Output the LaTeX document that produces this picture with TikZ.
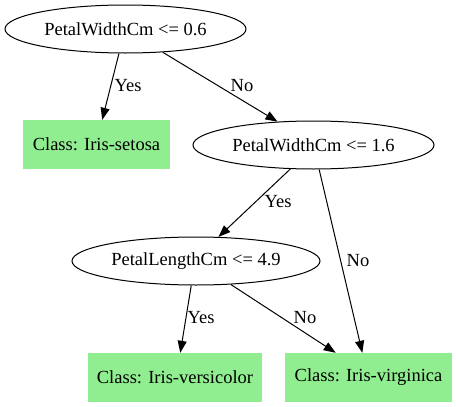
\documentclass[tikz,border=0pt]{standalone}
\usepackage{fontspec}
\setmainfont{Liberation Serif}
\usetikzlibrary{shapes.geometric,arrows.meta}
\definecolor{leafgreen}{RGB}{144,238,144}
\tikzset{
  test/.style={ellipse,draw=black,line width=1pt,inner sep=0pt,minimum height=48pt},
  leaf/.style={rectangle,fill=leafgreen,draw=none,inner sep=0pt,minimum height=49pt},
  edge/.style={draw=black,line width=1pt,-{Triangle[length=12pt,width=9pt]}},
  lbl/.style={inner sep=0pt}
}
\begin{document}
\begin{tikzpicture}[x=1pt,y=-1pt,font=\fontsize{18.5}{20}\selectfont]
\useasboundingbox (0,0) rectangle (456,407);
\node[test,minimum width=241pt] (root) at (125.5,29) {PetalWidthCm <= 0.6};
\node[leaf,minimum width=147pt] (setosa) at (96.5,144.5) {Class: Iris-setosa};
\node[test,minimum width=241pt] (pw) at (313.5,145) {PetalWidthCm <= 1.6};
\node[test,minimum width=248pt] (pl) at (196,261) {PetalLengthCm <= 4.9};
\node[leaf,minimum width=174pt] (versi) at (175,377.5) {Class: Iris-versicolor};
\node[leaf,minimum width=167pt] (virg) at (368.5,377.5) {Class: Iris-virginica};

\draw[edge] (root.-105) -- (setosa.77.3);
\draw[edge] (root.-32.2) -- (pw.147.8);
\draw[edge] (pw.-134.4) -- (pl.47.4);
\draw[edge] (pw.-77.1) -- (virg.104.9);
\draw[edge] (pl.-101.8) -- (versi.78.5);
\draw[edge] (pl.-34.9) -- (virg.143.8);

\node[lbl] (l1) at (128,86) {Yes};
\node[lbl] (l2) at (242,86) {No};
\node[lbl] (l3) at (278,202) {Yes};
\node[lbl] (l4) at (358,261) {No};
\node[lbl] (l5) at (201,318) {Yes};
\node[lbl] (l6) at (305,318) {No};
\end{tikzpicture}
\end{document}
